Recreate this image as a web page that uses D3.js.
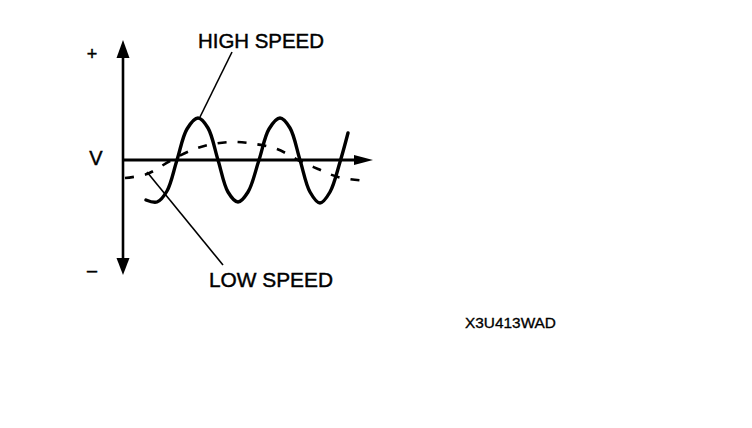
<!DOCTYPE html>
<html>
<head>
<meta charset="utf-8">
<script src="https://cdn.jsdelivr.net/npm/d3@7"></script>
<style>
  html, body { margin: 0; padding: 0; background: #fff; }
  svg { display: block; }
  text { font-family: "Liberation Sans", Arial, Helvetica, sans-serif; fill: #000; stroke: #000; stroke-width: 0.45px; }
</style>
</head>
<body>
<svg id="chart" width="752" height="428"></svg>
<script>
// ---- Data (time units, volts in arbitrary units) ----
const highSpeedT = [0.92, 1.36, 1.76, 2.16, 2.56, 3.0, 3.4, 3.8, 4.2, 4.6, 5.0, 5.44, 5.84, 6.28, 6.68, 7.08, 7.48, 7.88, 8.28, 8.68, 9.0];
const highSpeedV = [-2.0, -2.1, -1.55, 0, 1.55, 2.1, 1.6, 0, -1.6, -2.1, -1.6, 0, 1.55, 2.1, 1.6, 0, -1.6, -2.15, -1.6, -0.1, 1.35];

const lowSpeedT = [0.08, 0.96, 1.88, 2.76, 3.6, 4.44, 5.28, 6.16, 7.0, 7.8, 8.6, 9.76];
const lowSpeedV = [-0.9, -0.7, -0.05, 0.5, 0.8, 0.9, 0.8, 0.55, 0, -0.45, -0.85, -1.05];

const axisLabels = ["+", "V", "–"];
const seriesLabels = ["HIGH SPEED", "LOW SPEED"];
const figureCode = "X3U413WAD";

// axis extents (data units)
const tMax = 10;
const vTop = 6, vBottom = -5.75;

// ---- Scales ----
const svg = d3.select("#chart");
const x = d3.scaleLinear().domain([0, 10]).range([123, 373]);
const y = d3.scaleLinear().domain([vBottom, vTop]).range([275, 40]);

// ---- Axes ----
const g = svg.append("g");
g.append("line")
  .attr("x1", x(0)).attr("x2", x(0))
  .attr("y1", y(vTop) + 14).attr("y2", y(vBottom) - 14)
  .attr("stroke", "#000").attr("stroke-width", 2.6);
// up arrow
g.append("path")
  .attr("d", `M${x(0)},${y(vTop)} L${x(0) - 6.5},${y(vTop) + 18} L${x(0) + 6.5},${y(vTop) + 18} Z`)
  .attr("fill", "#000");
// down arrow
g.append("path")
  .attr("d", `M${x(0)},${y(vBottom)} L${x(0) - 6.5},${y(vBottom) - 17} L${x(0) + 6.5},${y(vBottom) - 17} Z`)
  .attr("fill", "#000");
// horizontal axis
g.append("line")
  .attr("x1", x(0)).attr("x2", x(tMax) - 12)
  .attr("y1", y(0)).attr("y2", y(0))
  .attr("stroke", "#000").attr("stroke-width", 3);
g.append("path")
  .attr("d", `M${x(tMax)},${y(0)} L${x(tMax) - 19},${y(0) - 5} L${x(tMax) - 19},${y(0) + 5} Z`)
  .attr("fill", "#000");

// ---- Curves ----
const line = d3.line()
  .x(d => x(d[0])).y(d => y(d[1]))
  .curve(d3.curveCatmullRom.alpha(0.5));

const lowData = lowSpeedT.map((t, i) => [t, lowSpeedV[i]]);
const highData = highSpeedT.map((t, i) => [t, highSpeedV[i]]);

g.append("path")
  .attr("d", line(lowData))
  .attr("fill", "none").attr("stroke", "#000")
  .attr("stroke-width", 2.6)
  .attr("stroke-dasharray", "9,11");

g.append("path")
  .attr("d", line(highData))
  .attr("fill", "none").attr("stroke", "#000")
  .attr("stroke-width", 3.4)
  .attr("stroke-linecap", "round");

// ---- Leader lines ----
g.append("line")
  .attr("x1", x(4.36)).attr("y1", y(5.4))
  .attr("x2", x(3.08)).attr("y2", y(2.15))
  .attr("stroke", "#000").attr("stroke-width", 1.6);
g.append("line")
  .attr("x1", x(0.96)).attr("y1", y(-0.6))
  .attr("x2", x(4.0)).attr("y2", y(-5.25))
  .attr("stroke", "#000").attr("stroke-width", 1.6);

// ---- Text ----
g.append("text").text(axisLabels[0])
  .attr("x", 92).attr("y", 60).attr("text-anchor", "middle")
  .style("font-size", "18px");
g.append("text").text(axisLabels[1])
  .attr("x", 96).attr("y", 165).attr("text-anchor", "middle")
  .style("font-size", "20px");
g.append("text").text(axisLabels[2])
  .attr("x", 92).attr("y", 276).attr("text-anchor", "middle")
  .style("font-size", "18px");

g.append("text").text(seriesLabels[0])
  .attr("x", 198).attr("y", 48)
  .attr("textLength", 126).attr("lengthAdjust", "spacingAndGlyphs")
  .style("font-size", "21px");
g.append("text").text(seriesLabels[1])
  .attr("x", 209).attr("y", 287)
  .attr("textLength", 124).attr("lengthAdjust", "spacingAndGlyphs")
  .style("font-size", "21px");

g.append("text").text(figureCode)
  .attr("x", 465).attr("y", 328)
  .attr("textLength", 91).attr("lengthAdjust", "spacingAndGlyphs")
  .style("font-size", "14px")
  .style("stroke-width", "0.3px");
</script>
</body>
</html>
